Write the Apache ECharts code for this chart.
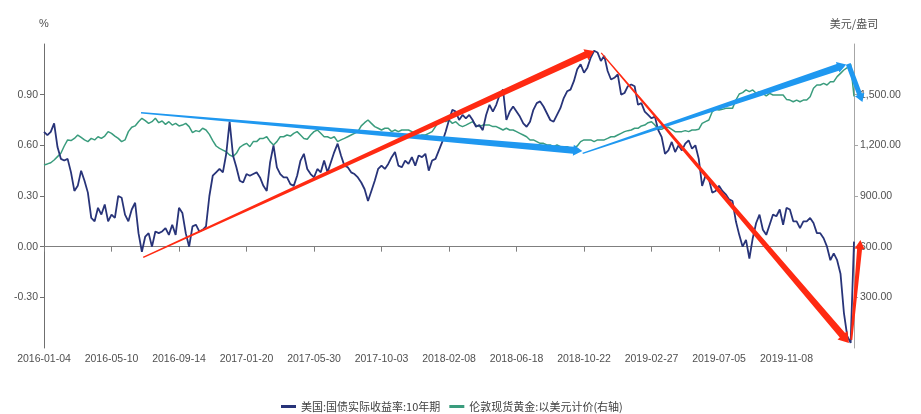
<!DOCTYPE html>
<html>
<head>
<meta charset="utf-8">
<script src="https://cdn.jsdelivr.net/npm/echarts@6/dist/echarts.min.js"></script>
<style>
html,body{margin:0;padding:0;background:#fff;}
#chart{width:921px;height:414px;}
</style>
</head>
<body>
<div id="chart"></div>
<script>
// x-axis tick labels (one every 20 samples; 240 sample intervals in total)
const tickLabels = ['2016-01-04','2016-05-10','2016-09-14','2017-01-20','2017-05-30','2017-10-03','2018-02-08','2018-06-18','2018-10-22','2019-02-27','2019-07-05','2019-11-08',''];
const samplesPerTick = 20;

// 美国:国债实际收益率:10年期 (%)
const yieldVals = [
 0.68,0.66,0.68,0.73,0.59,0.52,0.51,0.52,0.44,0.33,
 0.36,0.45,0.39,0.32,0.17,0.15,0.23,0.19,0.25,0.15,
 0.19,0.17,0.30,0.29,0.19,0.15,0.22,0.26,0.08,-0.03,
 0.06,0.08,0.00,0.09,0.08,0.09,0.11,0.07,0.13,0.07,
 0.23,0.20,0.08,0.00,0.12,0.13,0.09,0.10,0.12,0.30,
 0.42,0.44,0.46,0.44,0.55,0.74,0.54,0.47,0.39,0.38,
 0.43,0.42,0.43,0.44,0.41,0.36,0.33,0.50,0.60,0.47,
 0.43,0.41,0.41,0.37,0.36,0.42,0.51,0.55,0.46,0.43,
 0.41,0.46,0.44,0.51,0.44,0.50,0.56,0.61,0.54,0.48,
 0.47,0.44,0.43,0.41,0.38,0.34,0.27,0.33,0.39,0.46,
 0.48,0.46,0.49,0.53,0.56,0.48,0.47,0.51,0.49,0.53,
 0.48,0.54,0.53,0.55,0.45,0.51,0.52,0.57,0.62,0.68,
 0.75,0.81,0.80,0.75,0.78,0.76,0.78,0.75,0.71,0.72,
 0.69,0.78,0.84,0.80,0.84,0.90,0.93,0.75,0.80,0.83,
 0.80,0.77,0.73,0.71,0.74,0.81,0.85,0.86,0.83,0.79,
 0.75,0.74,0.78,0.82,0.88,0.92,0.93,0.98,1.05,1.08,
 1.03,1.06,1.12,1.16,1.15,1.10,1.13,1.04,0.99,1.00,
 1.02,0.90,0.91,0.95,0.96,0.95,0.84,0.85,0.80,0.78,
 0.76,0.77,0.69,0.65,0.55,0.57,0.62,0.56,0.60,0.57,
 0.61,0.63,0.58,0.60,0.52,0.36,0.42,0.40,0.32,0.33,
 0.36,0.33,0.31,0.28,0.27,0.15,0.07,0.00,0.04,-0.07,
 0.05,0.14,0.19,0.10,0.07,0.13,0.19,0.18,0.22,0.13,
 0.23,0.22,0.15,0.15,0.11,0.15,0.15,0.17,0.14,0.08,
 0.08,0.05,0.00,-0.08,-0.04,-0.08,-0.16,-0.39,-0.53,-0.57,0.03
];

// 伦敦现货黄金:以美元计价 (美元/盎司)
const goldVals = [
 1084,1090,1097,1113,1133,1153,1196,1232,1228,1241,
 1261,1247,1232,1222,1241,1232,1251,1241,1255,1281,
 1271,1255,1241,1222,1232,1281,1307,1315,1340,1360,
 1346,1330,1340,1360,1334,1344,1324,1340,1320,1330,
 1315,1320,1330,1311,1275,1287,1281,1301,1291,1265,
 1228,1196,1182,1172,1162,1143,1133,1153,1188,1202,
 1212,1192,1222,1222,1241,1241,1251,1222,1202,1222,
 1251,1251,1261,1255,1271,1281,1261,1241,1236,1261,
 1281,1291,1271,1251,1251,1241,1251,1222,1232,1241,
 1251,1261,1271,1281,1315,1334,1350,1330,1311,1301,
 1291,1301,1301,1281,1291,1281,1291,1291,1291,1281,
 1261,1251,1261,1261,1271,1281,1311,1340,1350,1340,
 1350,1330,1340,1320,1311,1320,1330,1340,1320,1311,
 1320,1320,1320,1311,1311,1301,1291,1301,1291,1291,
 1281,1271,1261,1251,1232,1232,1222,1212,1212,1202,
 1202,1192,1202,1192,1192,1192,1182,1188,1196,1222,
 1232,1232,1232,1222,1232,1232,1232,1241,1251,1251,
 1261,1271,1281,1287,1291,1301,1301,1315,1320,1334,
 1340,1320,1295,1295,1307,1307,1295,1281,1281,1281,
 1287,1281,1291,1291,1295,1330,1340,1350,1399,1413,
 1409,1413,1419,1419,1419,1468,1504,1512,1528,1518,
 1528,1508,1518,1508,1492,1508,1498,1498,1498,1498,
 1472,1468,1458,1468,1458,1468,1468,1488,1538,1557,
 1557,1567,1557,1577,1577,1607,1626,1646,1660,1680,1490
];

// annotation arrows: [fromIndex, fromValue, toIndex, toValue]
const redArrows = [[29.4,-0.063,163.0,1.159],[165.1,1.147,238.5,-0.570],[239.2,-0.552,241.9,0.04]];   // left axis
const blueArrows = [[28.75,1393,159.5,1166],[159.6,1152,237.7,1679],[238.3,1682,242.5,1457]];        // right axis

// arrow shapes (px)
const redArrowShape = [{w0:1.4,w1:7,hw:12,hl:9},{w0:1.2,w1:7,hw:13,hl:10},{w0:2,w1:5,hw:10,hl:9}];
const blueArrowShape = [{w0:1.4,w1:7,hw:11,hl:9},{w0:1.2,w1:7,hw:11,hl:9},{w0:5,w1:5,hw:10,hl:8}];

const N = yieldVals.length - 1;
const yieldData = yieldVals.map((v,i)=>[i,v]);
const goldData = goldVals.map((v,i)=>[i,v]);

function makeArrowRenderer(shapes, color){
  return function(params, api){
    const p0 = api.coord([api.value(0), api.value(1)]);
    const p1 = api.coord([api.value(2), api.value(3)]);
    const s = shapes[params.dataIndex];
    const dx = p1[0]-p0[0], dy = p1[1]-p0[1];
    const L = Math.hypot(dx,dy);
    const ux = dx/L, uy = dy/L, nx = -uy, ny = ux;
    const bx = p1[0]-ux*s.hl, by = p1[1]-uy*s.hl;
    const a = s.w0/2, b = s.w1/2, h = s.hw/2;
    const pts = [
      [p0[0]+nx*a, p0[1]+ny*a],
      [bx+nx*b, by+ny*b],
      [bx+nx*h, by+ny*h],
      [p1[0], p1[1]],
      [bx-nx*h, by-ny*h],
      [bx-nx*b, by-ny*b],
      [p0[0]-nx*a, p0[1]-ny*a]
    ];
    return {type:'polygon', shape:{points:pts}, style:{fill:color}};
  };
}

const labelFont = '"Liberation Sans",Arial,sans-serif';
const cjkFont = '"Noto Sans CJK SC","Noto Sans",sans-serif';

const chart = echarts.init(document.getElementById('chart'), null, {renderer:'canvas'});
chart.setOption({
  animation:false,
  backgroundColor:'#ffffff',
  grid:{left:44,right:67,top:44,bottom:66,containLabel:false},
  legend:{
    data:['美国:国债实际收益率:10年期','伦敦现货黄金:以美元计价(右轴)'],
    left:276, top:396,
    icon:'rect', itemWidth:15, itemHeight:3, itemGap:9,
    textStyle:{fontFamily:cjkFont, fontSize:11, color:'#404040'}
  },
  xAxis:[
    {
      type:'value', min:0, max:N, interval:samplesPerTick, position:'bottom',
      axisLine:{show:false, onZero:false}, axisTick:{show:false}, splitLine:{show:false},
      axisLabel:{
        margin:6, color:'#505050', fontFamily:labelFont, fontSize:10.5,
        formatter:function(v){ return tickLabels[Math.round(v/samplesPerTick)] || ''; }
      }
    },
    {
      type:'value', min:0, max:N, interval:samplesPerTick, position:'bottom',
      axisLine:{show:true, onZero:true, onZeroAxisIndex:0, lineStyle:{color:'#7f7f7f', width:1}},
      axisTick:{show:true, length:5, lineStyle:{color:'#7f7f7f'}},
      axisLabel:{show:false}, splitLine:{show:false}
    }
  ],
  yAxis:[
    {
      type:'value', min:-0.6, max:1.2, interval:0.3, position:'left',
      name:'%', nameLocation:'end', nameGap:15,
      nameTextStyle:{color:'#505050', fontFamily:labelFont, fontSize:11, align:'center'},
      axisLine:{show:true, onZero:false, lineStyle:{color:'#6f6f6f'}},
      axisTick:{show:true, length:4, lineStyle:{color:'#6f6f6f'}, customValues:[-0.3,0,0.3,0.6,0.9]},
      splitLine:{show:false},
      axisLabel:{margin:6, color:'#505050', fontFamily:labelFont, fontSize:10.5,
        customValues:[-0.3,0,0.3,0.6,0.9],
        formatter:function(v){ return v.toFixed(2); }}
    },
    {
      type:'value', min:0, max:1800, interval:300, position:'right',
      name:'美元/盎司', nameLocation:'end', nameGap:15,
      nameTextStyle:{color:'#505050', fontFamily:cjkFont, fontSize:11, align:'center'},
      axisLine:{show:true, onZero:false, lineStyle:{color:'#a6a6a6'}},
      axisTick:{show:true, length:4, lineStyle:{color:'#a6a6a6'}, customValues:[300,600,900,1200,1500]},
      splitLine:{show:false},
      axisLabel:{margin:6, color:'#505050', fontFamily:labelFont, fontSize:10.5,
        customValues:[300,600,900,1200,1500],
        formatter:function(v){ return v.toLocaleString('en-US',{minimumFractionDigits:2,maximumFractionDigits:2}); }}
    }
  ],
  series:[
    {
      name:'美国:国债实际收益率:10年期', type:'line', xAxisIndex:0, yAxisIndex:0,
      data:yieldData, showSymbol:false, symbol:'none',
      lineStyle:{color:'#283479', width:1.8}, itemStyle:{color:'#283479'}, z:3
    },
    {
      name:'伦敦现货黄金:以美元计价(右轴)', type:'line', xAxisIndex:0, yAxisIndex:1,
      data:goldData, showSymbol:false, symbol:'none',
      lineStyle:{color:'#3a9c7d', width:1.5}, itemStyle:{color:'#3a9c7d'}, z:2
    },
    {
      name:'redArrows', type:'custom', xAxisIndex:0, yAxisIndex:0, clip:false, z:5,
      data:redArrows, encode:{x:[0,2], y:[1,3]},
      renderItem:makeArrowRenderer(redArrowShape, '#ff2a12'), silent:true
    },
    {
      name:'blueArrows', type:'custom', xAxisIndex:0, yAxisIndex:1, clip:false, z:4,
      data:blueArrows, encode:{x:[0,2], y:[1,3]},
      renderItem:makeArrowRenderer(blueArrowShape, '#1f98f0'), silent:true
    }
  ]
});
</script>
</body>
</html>
